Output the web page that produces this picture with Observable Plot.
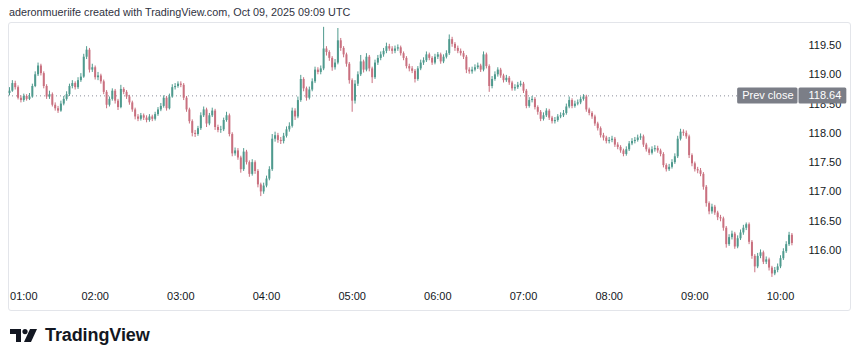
<!DOCTYPE html>
<html><head><meta charset="utf-8">
<script src="https://cdn.jsdelivr.net/npm/d3@7"></script>
<script src="https://cdn.jsdelivr.net/npm/@observablehq/plot@0.6"></script>
<style>
body{margin:0;background:#fff;width:860px;height:362px;overflow:hidden;position:relative;font-family:"Liberation Sans",Arial,sans-serif;}
#title{position:absolute;left:9px;top:6px;font-size:10.8px;color:#2f3241;white-space:nowrap;}
#frame{position:absolute;left:8px;top:22px;width:843px;height:289px;border:1px solid #e3e5ea;border-radius:3px;box-sizing:border-box;}
#chart{position:absolute;left:0;top:22px;}
#logo{position:absolute;left:10px;top:325px;display:flex;align-items:center;}
#logo span{font-size:18px;font-weight:bold;color:#131722;margin-left:7px;letter-spacing:-0.1px;}
</style></head>
<body>
<div id="title">aderonmueriife created with TradingView.com, Oct 09, 2025 09:09 UTC</div>
<div id="frame"></div>
<div id="chart"></div>
<div id="logo"><svg width="28" height="13" viewBox="0 0 28 13"><path d="M0 0H11V13H6V5H0Z" fill="#131722"/><circle cx="15" cy="2.6" r="2.6" fill="#131722"/><path d="M20 0H27L21 13H14Z" fill="#131722"/></svg><span>TradingView</span></div>
<script>
const prevClose = 118.64;
const firstOpen = 118.68;
const hourIdx = [5, 30, 60, 90, 120, 150, 180, 210, 240, 270];
const hourLabels = ["01:00","02:00","03:00","04:00","05:00","06:00","07:00","08:00","09:00","10:00"];
const priceTicks = [116.0, 116.5, 117.0, 117.5, 118.0, 118.5, 119.0, 119.5];

const closes = [
118.72,118.85,118.78,118.60,118.56,118.63,118.58,118.62,118.80,119.00,
119.15,119.02,118.80,118.62,118.66,118.48,118.42,118.38,118.50,118.58,
118.66,118.80,118.85,118.78,118.90,118.96,119.30,119.42,119.08,119.12,
118.95,118.98,118.88,118.70,118.48,118.58,118.72,118.55,118.44,118.75,
118.70,118.62,118.52,118.40,118.28,118.24,118.30,118.26,118.22,118.28,
118.24,118.32,118.40,118.46,118.60,118.42,118.62,118.78,118.80,118.84,
118.82,118.60,118.40,118.20,118.00,117.98,118.08,118.30,118.40,118.16,
118.30,118.38,118.10,118.05,118.06,118.22,118.30,117.98,117.65,117.70,
117.58,117.38,117.68,117.50,117.30,117.50,117.35,117.12,117.00,117.10,
117.22,117.38,117.90,117.96,117.88,117.86,117.95,118.06,118.12,118.38,
118.28,118.56,118.92,118.76,118.60,118.74,118.88,119.08,119.04,119.10,
119.44,119.38,119.28,119.12,119.20,119.58,119.45,119.34,119.18,118.90,
118.55,118.84,119.00,119.22,119.08,119.30,119.10,118.95,119.20,119.28,
119.34,119.40,119.48,119.44,119.40,119.44,119.46,119.36,119.28,119.14,
119.10,119.06,118.92,119.10,119.20,119.24,119.34,119.28,119.20,119.30,
119.34,119.22,119.30,119.36,119.60,119.52,119.45,119.40,119.36,119.30,
119.08,119.05,119.08,119.12,119.15,119.08,119.34,119.14,118.80,118.92,
119.00,119.08,118.98,118.90,118.94,118.86,118.76,118.78,118.82,118.84,
118.72,118.46,118.56,118.58,118.44,118.36,118.24,118.30,118.38,118.26,
118.20,118.22,118.28,118.30,118.34,118.45,118.56,118.46,118.50,118.52,
118.58,118.62,118.40,118.34,118.28,118.16,118.08,117.96,117.92,117.86,
117.88,117.90,117.80,117.76,117.70,117.64,117.72,117.82,117.86,117.88,
117.92,117.94,117.80,117.72,117.66,117.72,117.74,117.70,117.64,117.45,
117.38,117.42,117.50,117.60,117.90,118.02,118.00,117.94,117.62,117.48,
117.38,117.36,117.30,117.08,116.80,116.66,116.74,116.64,116.56,116.54,
116.38,116.10,116.22,116.28,116.06,116.20,116.30,116.38,116.44,116.14,
115.90,115.72,115.90,115.96,115.80,115.84,115.70,115.60,115.66,115.72,
115.86,115.98,116.10,116.26,116.12];

const highs = [
118.78,118.90,118.89,118.81,118.64,118.67,118.66,118.68,118.84,119.05,
119.20,119.18,119.05,118.83,118.72,118.69,118.52,118.46,118.55,118.63,
118.71,118.84,118.90,118.88,118.95,119.02,119.35,119.48,119.45,119.18,
119.15,119.04,119.01,118.91,118.73,118.62,118.76,118.75,118.58,118.82,
118.78,118.73,118.65,118.55,118.43,118.32,118.34,118.33,118.30,118.32,
118.31,118.36,118.44,118.51,118.64,118.63,118.67,118.83,118.85,118.88,
118.88,118.85,118.63,118.43,118.23,118.05,118.12,118.35,118.45,118.43,
118.34,118.43,118.41,118.14,118.12,118.26,118.36,118.33,118.01,117.75,
117.74,117.61,117.74,117.71,117.53,117.55,117.53,117.38,117.15,117.15,
117.27,117.43,117.98,118.02,118.00,117.93,118.00,118.11,118.18,118.43,
118.42,118.62,118.99,118.95,118.79,118.79,118.93,119.13,119.12,119.15,
119.81,119.48,119.41,119.31,119.26,119.79,119.62,119.48,119.37,119.21,
118.93,118.90,119.05,119.33,119.25,119.36,119.33,119.13,119.25,119.33,
119.39,119.45,119.54,119.52,119.48,119.49,119.51,119.49,119.39,119.31,
119.18,119.14,119.09,119.14,119.25,119.29,119.39,119.37,119.31,119.35,
119.38,119.37,119.34,119.41,119.68,119.64,119.55,119.49,119.44,119.40,
119.33,119.12,119.13,119.17,119.20,119.18,119.39,119.37,119.17,118.97,
119.05,119.12,119.11,119.01,118.99,118.97,118.89,118.83,118.87,118.89,
118.87,118.75,118.61,118.63,118.61,118.47,118.39,118.35,118.42,118.41,
118.29,118.27,118.32,118.35,118.39,118.50,118.62,118.59,118.55,118.57,
118.62,118.66,118.65,118.43,118.37,118.31,118.19,118.11,118.00,117.95,
117.93,117.95,117.93,117.84,117.79,117.73,117.77,117.86,117.91,117.93,
117.97,117.99,117.97,117.83,117.75,117.77,117.79,117.78,117.73,117.67,
117.48,117.47,117.55,117.65,117.95,118.07,118.06,118.04,117.97,117.65,
117.51,117.42,117.40,117.33,117.11,116.83,116.79,116.77,116.67,116.60,
116.57,116.41,116.27,116.33,116.31,116.25,116.35,116.43,116.47,116.47,
116.17,115.93,115.95,116.01,115.99,115.89,115.87,115.73,115.71,115.77,
115.91,116.03,116.15,116.31,116.29];

const lows = [
118.64,118.70,118.74,118.57,118.52,118.53,118.55,118.56,118.60,118.78,
118.97,118.98,118.76,118.58,118.58,118.45,118.38,118.34,118.36,118.47,
118.55,118.63,118.76,118.74,118.75,118.87,118.94,119.26,119.03,119.04,
118.91,118.90,118.84,118.66,118.42,118.45,118.55,118.50,118.39,118.42,
118.66,118.58,118.48,118.36,118.23,118.20,118.21,118.22,118.18,118.19,
118.20,118.21,118.29,118.37,118.43,118.38,118.40,118.60,118.74,118.77,
118.78,118.56,118.36,118.16,117.94,117.93,117.95,118.05,118.27,118.10,
118.13,118.27,118.05,118.01,118.00,118.03,118.19,117.94,117.60,117.61,
117.54,117.32,117.35,117.46,117.25,117.27,117.30,117.07,116.92,116.96,
117.07,117.19,117.35,117.85,117.83,117.81,117.82,117.92,118.02,118.09,
118.22,118.25,118.53,118.71,118.55,118.57,118.71,118.85,119.00,119.00,
119.07,119.32,119.23,119.06,119.08,119.17,119.40,119.29,119.13,118.84,
118.36,118.50,118.80,118.97,119.03,119.05,119.05,118.85,118.92,119.16,
119.24,119.30,119.36,119.40,119.35,119.36,119.40,119.32,119.24,119.10,
119.05,119.02,118.86,118.89,119.07,119.16,119.21,119.24,119.16,119.17,
119.26,119.18,119.19,119.27,119.33,119.47,119.40,119.36,119.32,119.26,
119.02,119.01,119.01,119.05,119.09,119.04,119.05,119.10,118.70,118.76,
118.89,118.96,118.94,118.86,118.87,118.82,118.72,118.72,118.75,118.79,
118.68,118.42,118.43,118.52,118.40,118.31,118.20,118.21,118.27,118.22,
118.16,118.16,118.19,118.25,118.27,118.31,118.42,118.42,118.43,118.47,
118.49,118.55,118.36,118.30,118.24,118.12,118.04,117.92,117.87,117.82,
117.82,117.84,117.76,117.72,117.66,117.60,117.61,117.69,117.79,117.82,
117.85,117.88,117.76,117.68,117.62,117.63,117.68,117.66,117.60,117.41,
117.34,117.35,117.39,117.47,117.57,117.87,117.95,117.90,117.57,117.43,
117.34,117.31,117.26,117.03,116.74,116.61,116.62,116.60,116.51,116.49,
116.33,116.04,116.07,116.18,116.02,116.03,116.17,116.26,116.34,116.10,
115.85,115.62,115.69,115.86,115.76,115.76,115.65,115.54,115.57,115.62,
115.69,115.83,115.95,116.07,116.08];

const UP = "#4f9a8e", DOWN = "#c9707f";
const candles = closes.map((c, i) => {
  const o = i === 0 ? firstOpen : closes[i - 1];
  return {i, o, c, h: highs[i], l: lows[i], col: c >= o ? UP : DOWN};
});

const chart = Plot.plot({
  width: 860, height: 290,
  marginLeft: 8, marginRight: 60, marginTop: 0, marginBottom: 26,
  style: {fontFamily: "'Liberation Sans', Arial, sans-serif", fontSize: "11px", color: "#131722", background: "transparent", overflow: "visible"},
  x: {domain: [0, 270], range: [9, 780], axis: null, label: null},
  y: {domain: [116, 119.5], range: [228, 23], axis: null, label: null},
  marks: [
    Plot.ruleY([prevClose], {stroke: "#8a8e99", strokeDasharray: "1,3", strokeWidth: 1}),
    Plot.ruleX(candles, {x: "i", y1: "l", y2: "h", stroke: "col", strokeWidth: 1}),
    Plot.ruleX(candles, {x: "i", y1: "o", y2: "c", stroke: "col", strokeWidth: 2}),
    Plot.axisX(hourIdx, {anchor: "bottom", tickSize: 0, tickPadding: 6, label: null,
      tickFormat: d => hourLabels[hourIdx.indexOf(d)]}),
    Plot.axisY(priceTicks, {anchor: "right", tickSize: 0, tickPadding: 8, label: null,
      tickFormat: d => d.toFixed(2)}),
    Plot.text([prevClose], {y: d => d, frameAnchor: "right", textAnchor: "end", dx: -7,
      text: () => "Prev close", fill: "white", className: "pc-label"}),
    Plot.text([prevClose], {y: d => d, frameAnchor: "right", textAnchor: "start", dx: 8,
      text: d => d.toFixed(2), fill: "white", className: "pc-price"})
  ]
});
document.getElementById("chart").append(chart);

function boxBehind(cls, padL, padR, fill) {
  chart.querySelectorAll("." + cls + " text").forEach(t => {
    const b = t.getBBox();
    const r = document.createElementNS("http://www.w3.org/2000/svg", "rect");
    const cy = b.y + b.height / 2;
    r.setAttribute("x", b.x - padL);
    r.setAttribute("y", cy - 8);
    r.setAttribute("width", b.width + padL + padR);
    r.setAttribute("height", 16);
    r.setAttribute("rx", 1.5);
    r.setAttribute("fill", fill);
    r.setAttribute("stroke", "none");
    if (t.getAttribute("transform")) r.setAttribute("transform", t.getAttribute("transform"));
    t.parentNode.insertBefore(r, t);
  });
}
boxBehind("pc-label", 5, 4, "#7b7e87");
boxBehind("pc-price", 10, 5, "#7b7e87");
</script>
</body></html>
